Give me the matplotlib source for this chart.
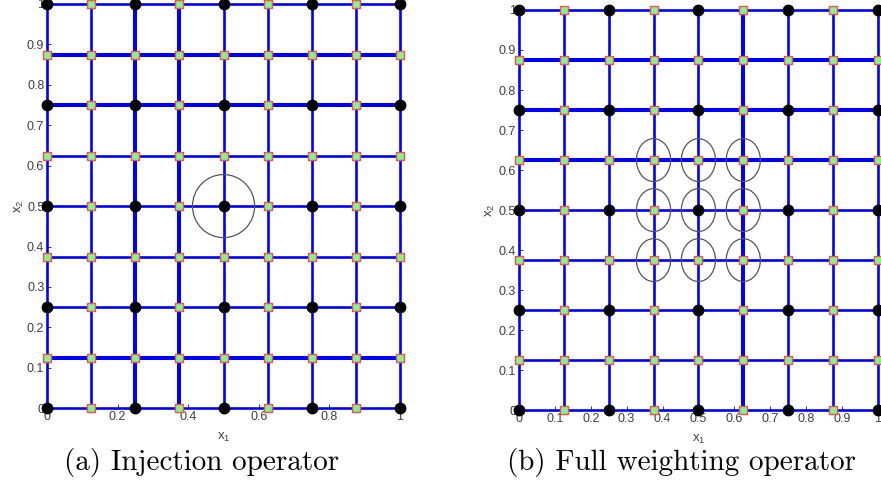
import matplotlib.pyplot as plt
from matplotlib.patches import Ellipse

# grid node positions (9 x 9 fine grid)
nodes = [0, 0.125, 0.25, 0.375, 0.5, 0.625, 0.75, 0.875, 1]
# coarse grid points (black dots)
coarse = [0, 0.25, 0.5, 0.75, 1]

# stencil points circled in each panel
inj_circled_x = [0.5]
inj_circled_y = [0.5]
fw_circled_x = [0.375, 0.5, 0.625]
fw_circled_y = [0.375, 0.5, 0.625]

xticks_a = [0, 0.2, 0.4, 0.6, 0.8, 1]
xticks_b = [0, 0.1, 0.2, 0.3, 0.4, 0.5, 0.6, 0.7, 0.8, 0.9, 1]
yticks = [0, 0.1, 0.2, 0.3, 0.4, 0.5, 0.6, 0.7, 0.8, 0.9, 1]

captions = ["(a) Injection operator", "(b) Full weighting operator"]

plt.rcParams['font.family'] = ['Liberation Sans', 'DejaVu Sans']

fig = plt.figure(figsize=(8.81, 4.99), dpi=100)
ax_a = fig.add_axes([0.0534, 0.182, 0.4007, 0.810])
ax_b = fig.add_axes([0.589, 0.178, 0.4075, 0.802])


def draw_grid(ax, thick_h, thick_v):
    for v in nodes:
        ax.plot([0, 1], [v, v], color="#0000ff",
                lw=2.9 if v in thick_h else 1.9, clip_on=False, zorder=2)
        ax.plot([v, v], [0, 1], color="#0000ff",
                lw=2.9 if v in thick_v else 1.9, clip_on=False, zorder=2)
    fx, fy, cx, cy = [], [], [], []
    for x in nodes:
        for y in nodes:
            if x in coarse and y in coarse:
                cx.append(x)
                cy.append(y)
            else:
                fx.append(x)
                fy.append(y)
    ax.plot(fx, fy, "s", ms=5.2, mfc="#7ff58a", mec="#ff4a4a", mew=1.0,
            clip_on=False, zorder=3)
    ax.plot(cx, cy, "o", ms=7.5, color="black", clip_on=False, zorder=4)


def style_axes(ax, xticks):
    ax.set_xlim(0, 1)
    ax.set_ylim(0, 1)
    ax.set_xticks(xticks)
    ax.set_yticks(yticks)
    ax.set_xticklabels(["%g" % t for t in xticks])
    ax.set_yticklabels(["%g" % t for t in yticks])
    for s in ax.spines.values():
        s.set_visible(False)
    ax.tick_params(direction="in", length=3, width=0.7, labelsize=9,
                   colors="#404040", pad=2)
    ax.set_xlabel(r"$\mathregular{x_1}$", fontsize=9.5, color="#404040",
                  labelpad=6)
    ax.set_ylabel(r"$\mathregular{x_2}$", fontsize=9.5, color="#404040",
                  labelpad=1)


draw_grid(ax_a, thick_h=[0.125, 0.75, 0.875], thick_v=[0.25, 0.375])
for x in inj_circled_x:
    for y in inj_circled_y:
        ax_a.add_patch(Ellipse((x, y), 0.176, 0.156, fill=False,
                               ec="#555555", lw=0.9, zorder=5))
style_axes(ax_a, xticks_a)

draw_grid(ax_b, thick_h=[0.625, 0.75, 0.875], thick_v=[0.625])
for x in fw_circled_x:
    for y in fw_circled_y:
        ax_b.add_patch(Ellipse((x, y), 0.095, 0.107, fill=False,
                               ec="#555555", lw=0.9, zorder=5))
style_axes(ax_b, xticks_b)

fig.text(0.229, 0.074, captions[0], family="cmr10", fontsize=21,
         ha="center", va="center")
fig.text(0.773, 0.074, captions[1], family="cmr10", fontsize=21,
         ha="center", va="center")

fig.savefig("out.png", dpi=100)
